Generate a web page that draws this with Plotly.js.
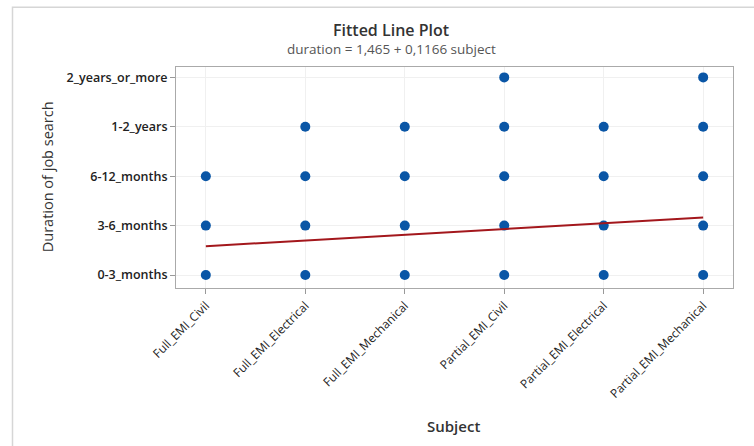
<!DOCTYPE html>
<html>
<head>
<meta charset="utf-8">
<script src="https://cdn.plot.ly/plotly-3.0.1.min.js"></script>
<style>
html,body{margin:0;padding:0;background:#fff;}
#chart{width:754px;height:446px;}
</style>
</head>
<body>
<div id="chart"></div>
<script>
// Categories
const subjects = ["Full_EMI_Civil","Full_EMI_Electrical","Full_EMI_Mechanical","Partial_EMI_Civil","Partial_EMI_Electrical","Partial_EMI_Mechanical"];
const durations = ["0-3_months","3-6_months","6-12_months","1-2_years","2_years_or_more"];

// Observed points (subject, duration)
const pointSubjects = [
  "Full_EMI_Civil","Full_EMI_Civil","Full_EMI_Civil",
  "Full_EMI_Electrical","Full_EMI_Electrical","Full_EMI_Electrical","Full_EMI_Electrical",
  "Full_EMI_Mechanical","Full_EMI_Mechanical","Full_EMI_Mechanical","Full_EMI_Mechanical",
  "Partial_EMI_Civil","Partial_EMI_Civil","Partial_EMI_Civil","Partial_EMI_Civil","Partial_EMI_Civil",
  "Partial_EMI_Electrical","Partial_EMI_Electrical","Partial_EMI_Electrical","Partial_EMI_Electrical",
  "Partial_EMI_Mechanical","Partial_EMI_Mechanical","Partial_EMI_Mechanical","Partial_EMI_Mechanical","Partial_EMI_Mechanical"
];
const pointDurations = [
  "0-3_months","3-6_months","6-12_months",
  "0-3_months","3-6_months","6-12_months","1-2_years",
  "0-3_months","3-6_months","6-12_months","1-2_years",
  "0-3_months","3-6_months","6-12_months","1-2_years","2_years_or_more",
  "0-3_months","3-6_months","6-12_months","1-2_years",
  "0-3_months","3-6_months","6-12_months","1-2_years","2_years_or_more"
];

// Fitted line endpoints (subject code 1..6, duration code)
const fitX = [1, 6];
const fitY = [1.582, 2.165];

const titleText = "Fitted Line Plot";
const subtitleText = "duration = 1,465 + 0,1166 subject";

const px = pointSubjects.map(s => subjects.indexOf(s) + 1);
const py = pointDurations.map(d => durations.indexOf(d) + 1);
const subjTicks = subjects.map((s,i) => i + 1);
const durTicks = durations.map((d,i) => i + 1);

const L = 176, R = 733, T = 66.5, B = 288;
const pw = R - L, ph = B - T;
const toPX = x => (x - L) / pw;
const toPY = y => (B - y) / ph;

const fontFam = "'Open Sans', 'Noto Sans', sans-serif";

const traces = [
  {
    x: px, y: py, type: "scatter", mode: "markers",
    marker: {color: "#0A56A6", size: 10},
    hoverinfo: "skip", showlegend: false
  },
  {
    x: fitX, y: fitY, type: "scatter", mode: "lines",
    line: {color: "#A3171C", width: 2},
    hoverinfo: "skip", showlegend: false
  }
];

const layout = {
  width: 754, height: 446,
  margin: {l: L, r: 754 - R, t: T, b: 446 - B, pad: 0},
  paper_bgcolor: "#ffffff", plot_bgcolor: "#ffffff",
  showlegend: false,
  xaxis: {
    type: "linear", range: [0.7, 6.3],
    tickvals: subjTicks, ticktext: subjects,
    tickangle: -45,
    tickfont: {family: fontFam, size: 12, color: "#222"},
    ticks: "outside", ticklen: 5, tickcolor: "#999",
    showgrid: true, gridcolor: "#f0f0f0", gridwidth: 1,
    zeroline: false, showline: true, linecolor: "#aaa", linewidth: 1, mirror: true,
    automargin: false
  },
  yaxis: {
    type: "linear", range: [0.737, 5.21],
    tickvals: durTicks, ticktext: durations,
    tickfont: {family: fontFam, size: 12.5, color: "#222", weight: 600},
    ticks: "outside", ticklen: 5, tickcolor: "#999",
    showgrid: true, gridcolor: "#f0f0f0", gridwidth: 1,
    zeroline: false, showline: true, linecolor: "#aaa", linewidth: 1, mirror: true,
    automargin: false
  },
  annotations: [
    {text: titleText, xref: "paper", yref: "paper", x: toPX(391), y: toPY(29),
     xanchor: "center", yanchor: "middle", showarrow: false,
     font: {family: fontFam, size: 16, color: "#333", weight: 600}},
    {text: subtitleText, xref: "paper", yref: "paper", x: toPX(391), y: toPY(48),
     xanchor: "center", yanchor: "middle", showarrow: false,
     font: {family: fontFam, size: 13.5, color: "#555"}},
    {text: "Duration of job search", xref: "paper", yref: "paper", x: toPX(47), y: toPY(177),
     xanchor: "center", yanchor: "middle", showarrow: false, textangle: -90,
     font: {family: fontFam, size: 14.5, color: "#333"}},
    {text: "Subject", xref: "paper", yref: "paper", x: toPX(453), y: toPY(426),
     xanchor: "center", yanchor: "middle", showarrow: false,
     font: {family: fontFam, size: 15, color: "#333", weight: 600}}
  ],
  shapes: [
    {type: "rect", xref: "paper", yref: "paper",
     x0: toPX(12.5), x1: toPX(770), y0: toPY(470), y1: toPY(6.5),
     line: {color: "#d6d6d6", width: 1.5}, fillcolor: "rgba(0,0,0,0)", layer: "below"}
  ]
};

Plotly.newPlot("chart", traces, layout, {displayModeBar: false, staticPlot: true});
</script>
</body>
</html>
